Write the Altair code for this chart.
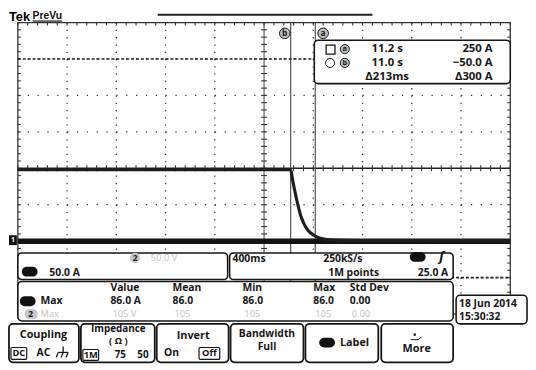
import altair as alt
import numpy as np
import pandas as pd

# ---------------- values read from the oscilloscope screen ----------------
# channel 1 current trace: time (s) / current (A)
ch1_time_s = [8.784, 11.000, 11.016, 11.040, 11.060, 11.080, 11.100, 11.120,
              11.140, 11.160, 11.200, 11.240, 11.280, 11.360, 11.520, 12.784]
ch1_current_a = [98, 98, 84, 64, 49, 36, 27, 20, 15, 11.5, 7, 4, 2.7, 1.4, 0.7, 0.3]
# ground-level trace
ref_time_s = [8.784, 12.784]
ref_current_a = [0, 0]
# cursors
vcursor_time_s = [11.0, 11.2]
hcursor_current_a = [250, -50]

# screen settings: 400 ms/div, 50 A/div, 10 x 8 divisions
T0, T_DIV, N_TDIV = 8.784, 0.4, 10
A0, A_DIV, N_ADIV = -100, 50, 8
T1 = T0 + T_DIV * N_TDIV
A1 = A0 + A_DIV * N_ADIV

readout_time = ["11.2 s", "11.0 s", "Δ213ms"]
readout_amp = ["250 A", "−50.0 A", "Δ300 A"]
meas_head = ["Value", "Mean", "Min", "Max", "Std Dev"]
meas_row1 = ["86.0 A", "86.0", "86.0", "86.0", "0.00"]
meas_row2 = ["105 V", "105", "105", "105", "0.00"]

# ---------------- layout helpers ----------------
OX, OY = 18, 20          # plot-area origin on the page
W, H = 500, 296
FONT = "Open Sans"
INK = "#161616"
GREY = "#c4c4c4"
one = pd.DataFrame({"k": [0]})


def X(x):
    return alt.value(x - OX)


def Y(y):
    return alt.value(y - OY)


def txt(s, x, y, size=10.5, align="left", color=INK, weight="bold", font=FONT, style="normal"):
    return alt.Chart(one).mark_text(
        text=s, align=align, baseline="middle", fontSize=size, fontWeight=weight,
        font=font, color=color, fontStyle=style
    ).encode(x=X(x), y=Y(y))


def rect(x1, y1, x2, y2, r=0, stroke=INK, sw=1.5, fill="white", op=1.0):
    return alt.Chart(one).mark_rect(
        cornerRadius=r, stroke=stroke, strokeWidth=sw, fill=fill, fillOpacity=op
    ).encode(x=X(x1), x2=X(x2), y=Y(y1), y2=Y(y2))


def seg(x1, y1, x2, y2, color=INK, sw=1.2):
    return alt.Chart(one).mark_rule(color=color, strokeWidth=sw).encode(
        x=X(x1), x2=X(x2), y=Y(y1), y2=Y(y2))


def dot(x, y, size=80, fill="#bdbdbd", stroke=INK, sw=1.0):
    return alt.Chart(one).mark_circle(
        size=size, fill=fill, stroke=stroke, strokeWidth=sw, fillOpacity=1, strokeOpacity=1
    ).encode(x=X(x), y=Y(y))


xs = alt.Scale(domain=[T0, T1], nice=False, zero=False)
ys = alt.Scale(domain=[A0, A1], nice=False, zero=False)


def xq(f):
    return alt.X(f, type="quantitative", scale=xs, axis=None)


def yq(f):
    return alt.Y(f, type="quantitative", scale=ys, axis=None)


layers = []

# ---------------- graticule ----------------
t_center = T0 + T_DIV * N_TDIV / 2
a_center = A0 + A_DIV * N_ADIV / 2
vt = [T0 + i * T_DIV for i in range(1, N_TDIV) if i != N_TDIV // 2]
ha = [A0 + j * A_DIV for j in range(1, N_ADIV) if j != N_ADIV // 2]
layers.append(alt.Chart(pd.DataFrame({"t": vt})).mark_rule(
    color="#3a3a3a", strokeWidth=1.3, strokeDash=[1.3, 6.1]).encode(
    x=xq("t"), y=alt.value(0), y2=alt.value(H)))
layers.append(alt.Chart(pd.DataFrame({"a": ha})).mark_rule(
    color="#3a3a3a", strokeWidth=1.3, strokeDash=[1.3, 8.7]).encode(
    y=yq("a"), x=alt.value(0), x2=alt.value(W)))
layers.append(alt.Chart(pd.DataFrame({"t": [t_center]})).mark_rule(
    color="#444", strokeWidth=1.0).encode(x=xq("t"), y=alt.value(0), y2=alt.value(H)))
layers.append(alt.Chart(pd.DataFrame({"a": [a_center]})).mark_rule(
    color="#222", strokeWidth=1.4).encode(y=yq("a"), x=alt.value(0), x2=alt.value(W)))

# minor ticks
tk_t = T_DIV / 5
tk_a = A_DIV / 5
dt = 0.024   # ~3 px
da = 4.0     # ~3 px
rows = []
for k in range(N_TDIV * 5 + 1):
    t = T0 + k * tk_t
    rows.append((t, t, a_center - da, a_center + da))
    rows.append((t, t, A1, A1 - da))
for k in range(N_ADIV * 5 + 1):
    a = A0 + k * tk_a
    rows.append((t_center - dt, t_center + dt, a, a))
    rows.append((T0, T0 + dt, a, a))
    rows.append((T1 - dt, T1, a, a))
ticks = pd.DataFrame(rows, columns=["t1", "t2", "a1", "a2"])
layers.append(alt.Chart(ticks).mark_rule(color="#333", strokeWidth=1.1).encode(
    x=xq("t1"), x2="t2", y=yq("a1"), y2="a2"))

# border
layers.append(rect(18, 20, 518, 316, stroke="#333", sw=1.3, op=0))

# ---------------- cursors ----------------
layers.append(alt.Chart(pd.DataFrame({"t": vcursor_time_s})).mark_rule(
    color="#555", strokeWidth=1.2).encode(x=xq("t"), y=alt.value(0), y2=alt.value(H)))
layers.append(alt.Chart(pd.DataFrame({"a": hcursor_current_a})).mark_rule(
    color="#222", strokeWidth=1.6, strokeDash=[3, 2]).encode(
    y=yq("a"), x=alt.value(0), x2=alt.value(W)))

# ---------------- traces ----------------
layers.append(alt.Chart(pd.DataFrame({"t": ref_time_s, "a": ref_current_a})).mark_line(
    color="#141414", strokeWidth=5.5).encode(x=xq("t"), y=yq("a")))
layers.append(alt.Chart(pd.DataFrame({"t": ch1_time_s, "a": ch1_current_a})).mark_line(
    color="#1e1e1e", strokeWidth=3.2, interpolate="monotone").encode(x=xq("t"), y=yq("a")))

# ---------------- header ----------------
layers += [
    txt("Tek", 9, 14.5, size=13, font="Liberation Sans", color="#000"),
    txt("PreVu", 33, 13.5, size=10.5, font="Liberation Sans", color="#111"),
    seg(33, 18.5, 63, 18.5, sw=1.2),
    seg(160, 12, 378, 12, color="#222", sw=2),
]

# channel ground marker
layers += [rect(9, 236, 17, 246, fill="#111", sw=0, stroke="#111"),
           txt("1", 13, 241, size=7, align="center", color="white")]

# cursor labels
layers += [dot(289, 31, size=115), txt("b", 289, 31, size=8.5, align="center"),
           dot(328, 31, size=115), txt("a", 328, 31, size=8.5, align="center")]

# ---------------- cursor readout ----------------
layers += [
    rect(319, 38, 518, 82, r=4, sw=1.6),
    rect(331, 43, 340, 52, sw=1.3),
    dot(350, 47, size=85), txt("a", 350, 47, size=7.5, align="center"),
    dot(335, 61, size=85, fill="white"),
    dot(350, 61, size=85), txt("b", 350, 61, size=7.5, align="center"),
]
for i, (s1, s2) in enumerate(zip(readout_time, readout_amp)):
    yy = 47 + 14 * i
    layers.append(txt(s1, 393, yy, size=11.5, align="center"))
    layers.append(txt(s2, 500, yy, size=11.5, align="right"))

# ---------------- channel / timebase panels ----------------
layers += [
    rect(18, 254, 231, 281, r=4, sw=1.6),
    dot(137, 259, size=90, fill="#c8c8c8", stroke="#c8c8c8"),
    txt("2", 137, 259, size=8.5, align="center"),
    txt("50.0 V", 153, 259, size=9.5, color=GREY, weight="normal"),
    rect(22, 268, 38, 278, r=5, fill="#111", sw=0),
    txt("50.0 A", 50, 274, size=10.5),

    rect(233, 254, 460, 281, r=4, sw=1.6),
    txt("400ms", 236, 260, size=10.5),
    txt("250kS/s", 348, 260, size=10.5, align="center"),
    txt("1M points", 359, 274, size=10.5, align="center"),
    rect(416, 253, 432, 263, r=5, fill="#111", sw=0),
    txt("ʃ", 446, 258, size=12, font="DejaVu Sans", style="italic"),
    txt("25.0 A", 455, 274, size=10.5, align="right"),
]

# ---------------- measurement panel ----------------
layers += [
    rect(18, 283, 460, 323, r=4, sw=1.6),
    rect(20, 298, 36, 308, r=5, fill="#111", sw=0),
    txt("Max", 41, 303, size=10.5),
    rect(25, 311, 38, 321, r=4, fill="#c8c8c8", sw=0),
    txt("2", 31, 316, size=8.5, align="center"),
    txt("Max", 41, 316, size=9.5, color=GREY, weight="normal"),
]
col_x = [112, 175, 246, 318, 355]
for cx, h, r1, r2 in zip(col_x, meas_head, meas_row1, meas_row2):
    layers.append(txt(h, cx, 290, size=10.5))
    layers.append(txt(r1, cx, 303, size=10.5))
    layers.append(txt(r2, cx + 2, 316, size=9.5, color=GREY, weight="normal"))

# date box
layers += [
    rect(463, 297, 535, 326, r=4, sw=1.6),
    txt("18 Jun  2014", 466, 306, size=10.5),
    txt("15:30:32", 466, 319, size=10.5),
]

# ---------------- soft-key buttons ----------------
btn = [(9, 80), (82, 157), (159, 232), (234, 308), (310, 384), (387, 460)]
for x1, x2 in btn:
    layers.append(rect(x1, 326, x2, 365, r=4, sw=1.8))

layers += [
    txt("Coupling", 44, 337, size=11, align="center"),
    rect(11, 350, 27, 362, r=1, sw=1.2),
    txt("DC", 19, 356, size=9.5, align="center"),
    txt("AC", 44, 356, size=10.5, align="center"),
    seg(64, 349, 64, 355, sw=1.3), seg(59, 355, 69, 355, sw=1.3),
    seg(59, 355, 57, 360, sw=1.3), seg(64, 355, 62, 360, sw=1.3), seg(69, 355, 67, 360, sw=1.3),

    txt("Impedance", 120, 331.5, size=10, align="center"),
    txt("( Ω )", 120, 343.5, size=9.5, align="center"),
    rect(84, 352, 100, 363, r=1, sw=1.2),
    txt("1M", 92, 357.5, size=9.5, align="center"),
    txt("75", 122, 357.5, size=10, align="center"),
    txt("50", 145, 357.5, size=10, align="center"),

    txt("Invert", 196, 338, size=11, align="center"),
    txt("On", 174, 356, size=10.5, align="center"),
    rect(202, 350, 223, 362, r=1, sw=1.2),
    txt("Off", 212.5, 356, size=9.5, align="center"),

    txt("Bandwidth", 271, 336, size=10.5, align="center"),
    txt("Full", 271, 350, size=10.5, align="center"),

    rect(324, 340, 340, 350, r=5, fill="#111", sw=0),
    txt("Label", 345, 345, size=11),

    dot(421, 337, size=8, fill="#333", stroke="#333", sw=0),
    seg(417, 342, 425, 342, sw=1), seg(425, 342, 428, 339, sw=1),
    txt("More", 423, 352, size=11, align="center"),
]

chart = alt.layer(*layers).properties(
    width=W, height=H,
    autosize=alt.AutoSizeParams(type="none"),
    padding={"left": 10, "top": 12, "right": 18, "bottom": 50},
    background="white",
).configure_view(stroke=None)

chart.save("out.html", embed_options={"renderer": "svg", "actions": False})
